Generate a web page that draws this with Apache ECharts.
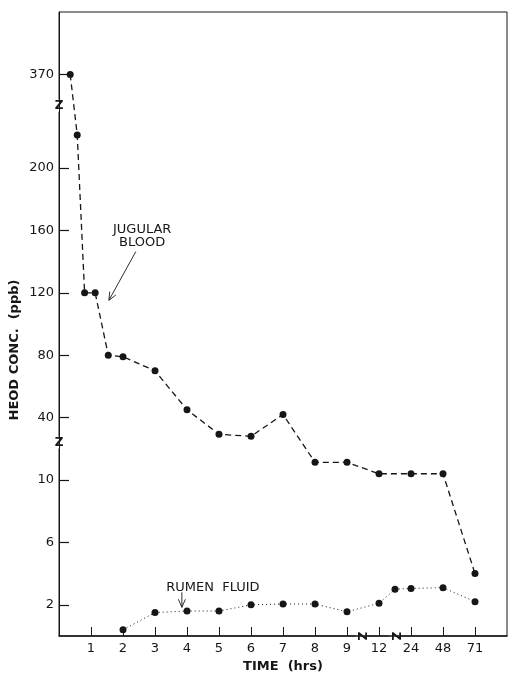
<!DOCTYPE html>
<html>
<head>
<meta charset="utf-8">
<script src="https://cdn.jsdelivr.net/npm/echarts@6/dist/echarts.min.js"></script>
<style>
  html, body { margin: 0; padding: 0; background: #fff; }
  #main { width: 514px; height: 678px; }
</style>
</head>
<body>
<div id="main"></div>
<script>
// tick labels of the two broken axes and where they sit (axis units)
var timeTicks = [1, 2, 3, 4, 5, 6, 7, 8, 9, 12, 24, 48, 71];
var timePos   = [1, 2, 3, 4, 5, 6, 7, 8, 9, 10, 11, 12, 13];
var concTicks = [2, 6, 10, 40, 80, 120, 160, 200, 370];
var concPos   = [0, 1, 2, 3, 4, 5, 6, 7, 8.5];

// HEOD in jugular blood
var jugularTime = [0.35, 0.57, 0.8, 1.13, 1.54, 2, 3, 4, 5, 6, 7, 8, 9, 12, 24, 48, 71];
var jugularConc = [370, 260, 120, 120, 80, 79, 70, 45, 32, 31, 42, 18.5, 18.5, 13, 13, 13, 4];

// HEOD in rumen fluid
var rumenTime = [2, 3, 4, 5, 6, 7, 8, 9, 12, 18, 24, 48, 71];
var rumenConc = [0.4, 1.5, 1.6, 1.6, 2.0, 2.05, 2.05, 1.55, 2.1, 3.0, 3.05, 3.1, 2.2];

// piecewise linear mapping value -> axis position
function toPos(v, ticks, pos) {
    var i = 0;
    while (i < ticks.length - 2 && v > ticks[i + 1]) i++;
    var t = (v - ticks[i]) / (ticks[i + 1] - ticks[i]);
    return pos[i] + t * (pos[i + 1] - pos[i]);
}
function pairs(xs, ys) {
    var res = [];
    for (var i = 0; i < xs.length; i++) {
        res.push([toPos(xs[i], timeTicks, timePos), toPos(ys[i], concTicks, concPos)]);
    }
    return res;
}
function labelFor(v, ticks, pos) {
    for (var i = 0; i < pos.length; i++) {
        if (Math.abs(pos[i] - v) < 1e-6) return String(ticks[i]);
    }
    return '';
}

var font = 'DejaVu Sans';
var ink = '#161616';

var dom = document.getElementById('main');
var myChart = echarts.init(dom);
var option = {
    animation: false,
    backgroundColor: '#fff',
    grid: {
        left: 59, right: 7, top: 12, bottom: 38,
        show: true, borderColor: ink, borderWidth: 1
    },
    xAxis: {
        type: 'value',
        min: 0, max: 14,
        axisLine: { show: true, onZero: false, lineStyle: { color: ink, width: 1.5 } },
        axisTick: { show: true, inside: true, length: 9, customValues: timePos, lineStyle: { color: ink } },
        axisLabel: {
            customValues: timePos, margin: 6,
            color: ink, fontFamily: font, fontSize: 13,
            formatter: function (v) { return labelFor(v, timeTicks, timePos); }
        },
        splitLine: { show: false },
        name: 'TIME  (hrs)',
        nameLocation: 'middle',
        nameGap: 24,
        nameTextStyle: { color: ink, fontFamily: font, fontSize: 13, fontWeight: 'bold' }
    },
    yAxis: {
        type: 'value',
        min: -0.5, max: 9.5,
        axisLine: { show: true, onZero: false, lineStyle: { color: ink, width: 1 } },
        axisTick: { show: true, inside: true, length: 10, customValues: concPos, lineStyle: { color: ink, width: 1.2 } },
        axisLabel: {
            customValues: concPos, margin: 5,
            color: ink, fontFamily: font, fontSize: 13,
            formatter: function (v) { return labelFor(v, concTicks, concPos); }
        },
        splitLine: { show: false }
    },
    series: [
        {
            name: 'JUGULAR BLOOD',
            type: 'line',
            data: pairs(jugularTime, jugularConc),
            symbol: 'circle', symbolSize: 7,
            itemStyle: { color: ink },
            lineStyle: { color: ink, width: 1.3, type: [6, 4] }
        },
        {
            name: 'RUMEN FLUID',
            type: 'line',
            data: pairs(rumenTime, rumenConc),
            symbol: 'circle', symbolSize: 7,
            itemStyle: { color: ink },
            lineStyle: { color: ink, width: 1, type: [1, 3] }
        }
    ]
};
myChart.setOption(option);

// annotations, arrows and axis-break marks
function px(x, y) { return myChart.convertToPixel({ gridIndex: 0 }, [x, y]); }
function arrow(a, b) {
    var dx = b[0] - a[0], dy = b[1] - a[1];
    var len = Math.sqrt(dx * dx + dy * dy), ux = dx / len, uy = dy / len;
    var h = 8, w = 3.5;
    var l = [b[0] - ux * h - uy * w, b[1] - uy * h + ux * w];
    var r = [b[0] - ux * h + uy * w, b[1] - uy * h - ux * w];
    return [
        { type: 'line', shape: { x1: a[0], y1: a[1], x2: b[0], y2: b[1] }, style: { stroke: ink, lineWidth: 0.9 } },
        { type: 'polyline', shape: { points: [l, b, r] }, style: { stroke: ink, lineWidth: 0.9, fill: null } }
    ];
}
function zmark(p, rot) {
    return {
        type: 'text', x: p[0], y: p[1], rotation: rot,
        style: { text: 'Z', fill: ink, font: 'bold 12px ' + font, align: 'center', verticalAlign: 'middle',
                 backgroundColor: '#fff' }
    };
}
var jb = px(2.6, 5.7), rf = px(4.81, 0.17);
var g = [
    {
        type: 'text', x: 15, y: 350, rotation: Math.PI / 2,
        style: { text: 'HEOD CONC.  (ppb)', fill: ink, font: 'bold 13px ' + font,
                 align: 'center', verticalAlign: 'middle' }
    },
    {
        type: 'text', x: jb[0], y: jb[1],
        style: { text: 'JUGULAR\nBLOOD', fill: ink, font: '13px ' + font, lineHeight: 13,
                 align: 'center', verticalAlign: 'bottom' }
    },
    {
        type: 'text', x: rf[0], y: rf[1],
        style: { text: 'RUMEN  FLUID', fill: ink, font: '13px ' + font,
                 align: 'center', verticalAlign: 'bottom' }
    },
    zmark(px(0, 8.0), 0), zmark(px(0, 2.6), 0),
    zmark(px(9.45, -0.5), -Math.PI / 2), zmark(px(10.5, -0.5), -Math.PI / 2)
];
g = g.concat(arrow(px(2.4, 5.66), px(1.56, 4.88)), arrow(px(3.84, 0.2), px(3.84, -0.04)));
myChart.setOption({ graphic: g });
</script>
</body>
</html>
